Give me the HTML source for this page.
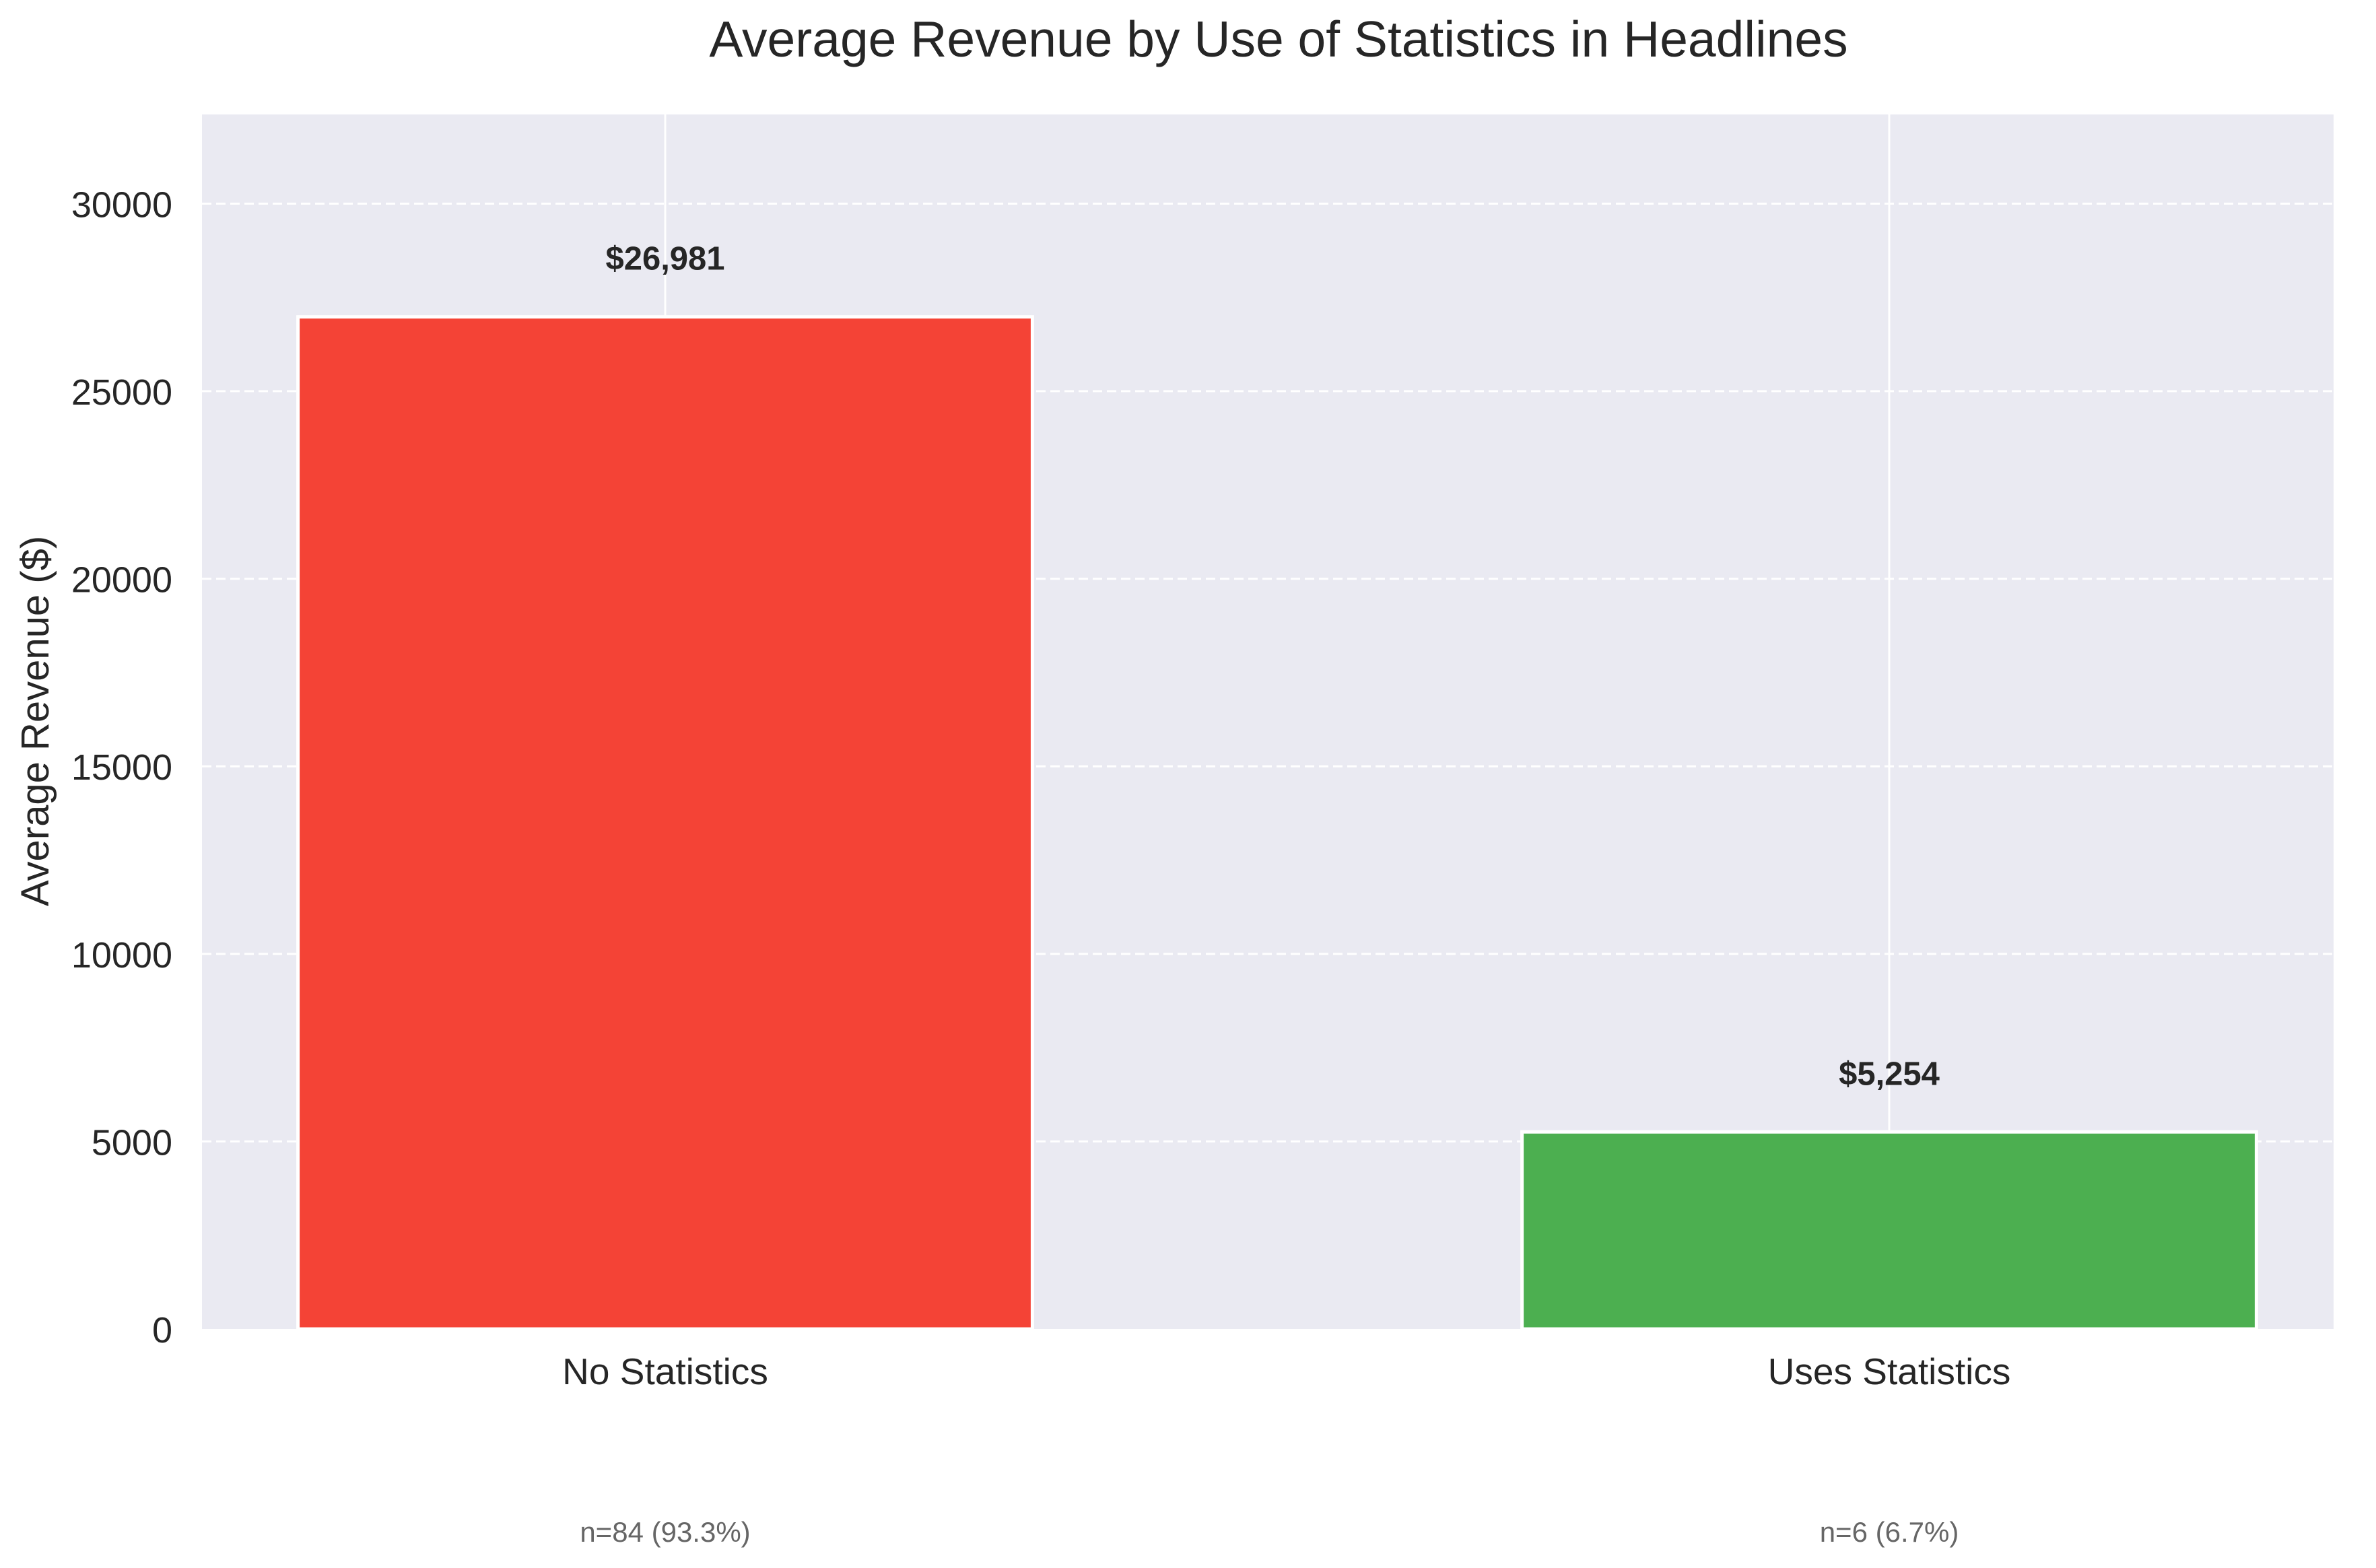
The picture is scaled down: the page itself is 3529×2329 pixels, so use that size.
<!DOCTYPE html>
<html><head><meta charset="utf-8"><style>
html,body{margin:0;padding:0;background:#fff}
svg text{font-family:"Liberation Sans",Arial,sans-serif}
</style></head><body>
<svg id="chart" width="3529" height="2324" xmlns="http://www.w3.org/2000/svg">
<rect x="0" y="0" width="3529" height="2324" fill="#fff"/>
<text x="1899" y="84" font-size="75" text-anchor="middle" fill="#262626">Average Revenue by Use of Statistics in Headlines</text>
<rect x="300" y="170" width="3166" height="1804" fill="#eaeaf2"/>
<g id="grid"></g>
<g id="bars"></g>
<g id="labels"></g>
<text transform="translate(72,1071) rotate(-90)" font-size="58" text-anchor="middle" fill="#262626">Average Revenue ($)</text>
</svg>
<script>
const categories = ["No Statistics","Uses Statistics"];
const revenue = [26981, 5254];
const valueLabels = ["$26,981","$5,254"];
const countLabels = ["n=84 (93.3%)","n=6 (6.7%)"];
const yTicks = [0,5000,10000,15000,20000,25000,30000];
const colors = ["#f44336","#4caf50"];

const NS="http://www.w3.org/2000/svg";
const y0=1974, yMax=32377, plotTop=170;
const y = v => y0 - v/yMax*(y0-plotTop);
const xC = i => 988 + i*1818;
const barW = 0.6*1818;
function mk(tag,attrs,parent,text){const e=document.createElementNS(NS,tag);for(const k in attrs)e.setAttribute(k,attrs[k]);if(text!==undefined)e.textContent=text;parent.appendChild(e);return e;}
const grid=document.getElementById('grid'), bars=document.getElementById('bars'), labels=document.getElementById('labels');
yTicks.forEach(t=>{
  if(t>0){const l=mk('line',{x1:300,x2:3466,y1:y(t),y2:y(t),stroke:'#fff','stroke-width':3,'stroke-dasharray':'14,7'},grid);
  
  }
  const tx=mk('text',{x:256,y:y(t)+20,'font-size':54,'text-anchor':'end',fill:'#262626'},labels,String(t));
  
  
});
categories.forEach((c,i)=>{
  const g=mk('line',{x1:xC(i),x2:xC(i),y1:plotTop,y2:y0,stroke:'#fff','stroke-width':3},grid);
  
  
  const b=mk('rect',{x:xC(i)-barW/2,y:y(revenue[i]),width:barW,height:y0-y(revenue[i]),fill:colors[i],stroke:'#fff','stroke-width':5},bars);
  
  
  const v=mk('text',{x:xC(i),y:y(revenue[i])-70,'font-size':49,'font-weight':'bold','text-anchor':'middle',fill:'#262626'},labels,valueLabels[i]);
  
  
  const cl=mk('text',{x:xC(i),y:2056,'font-size':55,'text-anchor':'middle',fill:'#262626'},labels,c);
  
  
  const n=mk('text',{x:xC(i),y:2290,'font-size':42,'text-anchor':'middle',fill:'#666'},labels,countLabels[i]);
  
  
});
</script>
</body></html>
